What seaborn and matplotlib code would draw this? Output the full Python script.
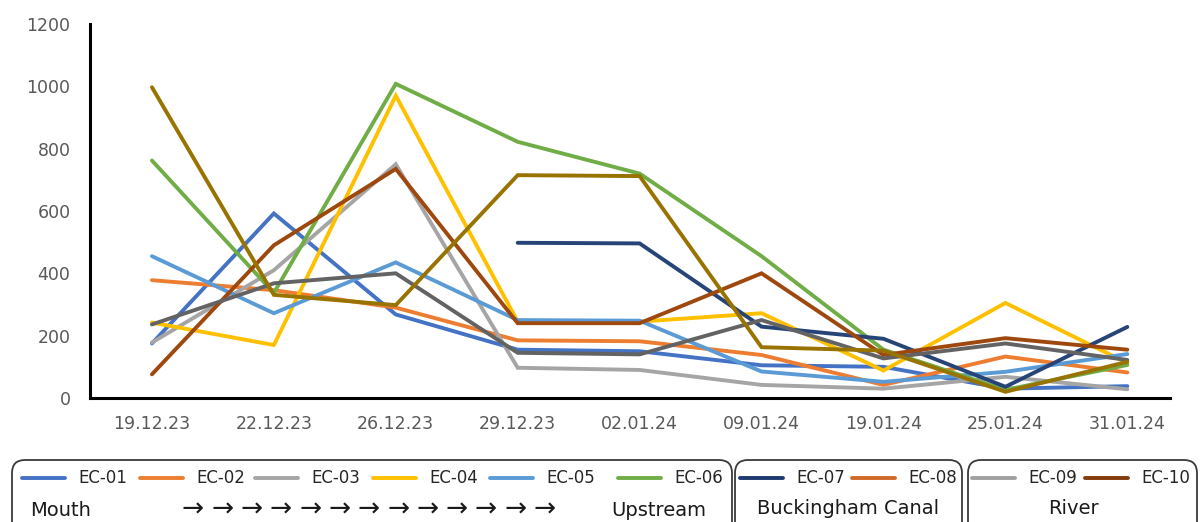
import numpy as np
import pandas as pd
import matplotlib
matplotlib.use("Agg")
import matplotlib.pyplot as plt
import seaborn as sns
from matplotlib.patches import FancyBboxPatch
from matplotlib.lines import Line2D

dates = ["19.12.23", "22.12.23", "26.12.23", "29.12.23", "02.01.24",
         "09.01.24", "19.01.24", "25.01.24", "31.01.24"]

ec01 = [175, 592, 268, 155, 150, 105, 100, 30, 38]
ec02 = [378, 346, 290, 185, 182, 138, 42, 133, 82]
ec03 = [178, 410, 750, 97, 90, 42, 30, 68, 28]
ec04 = [242, 170, 970, 245, 245, 272, 88, 305, 112]
ec05 = [455, 272, 435, 250, 248, 85, 52, 84, 141]
ec06 = [762, 337, 1008, 822, 720, 455, 155, 26, 106]
ec07 = [np.nan, np.nan, np.nan, 498, 496, 229, 190, 36, 228]
ec08 = [76, 490, 735, 240, 240, 400, 138, 192, 155]
ec09 = [236, 368, 400, 145, 140, 250, 127, 175, 122]
ec10 = [997, 331, 298, 715, 712, 163, 152, 20, 116]

series_names = ["EC-01", "EC-02", "EC-03", "EC-04", "EC-05",
                "EC-06", "EC-07", "EC-08", "EC-09", "EC-10"]
series_values = [ec01, ec02, ec03, ec04, ec05, ec06, ec07, ec08, ec09, ec10]
line_colors = ["#4472C4", "#ED7D31", "#A5A5A5", "#FFC000", "#5B9BD5",
               "#70AD47", "#264478", "#9E480E", "#636363", "#997300"]
legend_colors = ["#4472C4", "#ED7D31", "#A5A5A5", "#FFC000", "#5B9BD5",
                 "#70AD47", "#1F3A70", "#D0692A", "#A0A0A0", "#843C0C"]
group_labels = ["Upstream", "Buckingham Canal", "River"]

rows = []
for name, vals in zip(series_names, series_values):
    for i, v in enumerate(vals):
        rows.append({"x": i, "value": v, "station": name})
df = pd.DataFrame(rows).dropna()

sns.set_style("white")
plt.rcParams["font.family"] = ["DejaVu Sans"]

fig = plt.figure(figsize=(12, 5.22), dpi=100)
ax = fig.add_axes([90 / 1200, 1 - 398 / 522, 1080 / 1200, 374 / 522])

sns.lineplot(data=df, x="x", y="value", hue="station", hue_order=series_names,
             palette=dict(zip(series_names, line_colors)), linewidth=2.8,
             sort=False, legend=False, ax=ax, solid_capstyle="round",
             solid_joinstyle="miter")

ax.set_xlim(-0.508, 8.35)
ax.set_ylim(0, 1200)
ax.set_yticks(np.arange(0, 1201, 200))
ax.set_xticks(range(len(dates)))
ax.set_xticklabels(dates)
ax.set_xlabel("")
ax.set_ylabel("")
for s in ["top", "right"]:
    ax.spines[s].set_visible(False)
for s in ["left", "bottom"]:
    ax.spines[s].set_color("black")
    ax.spines[s].set_linewidth(2.2)
ax.tick_params(axis="both", length=0, labelcolor="#595959", labelsize=12.5)
ax.tick_params(axis="y", pad=14)
ax.tick_params(axis="x", pad=12)
ax.grid(False)

tr = fig.dpi_scale_trans
H = 522


def P(px, py):
    return px / 100, (H - py) / 100


# legend boxes
for (x0, x1) in [(12, 732), (735, 962), (968, 1197)]:
    bx, by = P(x0, 535)
    box = FancyBboxPatch((bx, by), (x1 - x0) / 100, (535 - 460) / 100,
                         boxstyle="round,pad=0,rounding_size=0.13",
                         transform=tr, facecolor="none", edgecolor="#3a3a3a",
                         linewidth=1.3, clip_on=False)
    fig.patches.append(box)

handles_x = [22, 140, 255, 373, 490, 618, 740, 852, 972, 1085]
for hx, name, col in zip(handles_x, series_names, legend_colors):
    xa, ya = P(hx, 478)
    xb, _ = P(hx + 43, 478)
    fig.lines.append(Line2D([xa, xb], [ya, ya], color=col, linewidth=2.8,
                            transform=tr))
    tx, ty = P(hx + 56, 478)
    fig.text(tx, ty, name, transform=tr, fontsize=12, color="#262626",
             va="center", ha="left")

# second row
tx, ty = P(30, 511)
fig.text(tx, ty, "Mouth", transform=tr, fontsize=14, color="#1a1a1a",
         va="center", ha="left")
for k in range(13):
    ax_, ay_ = P(193 + k * 29.3, 510)
    fig.text(ax_, ay_, "\u2192", transform=tr, fontsize=19, color="#1a1a1a",
             va="center", ha="center")
tx, ty = P(706, 511)
fig.text(tx, ty, group_labels[0], transform=tr, fontsize=14, color="#1a1a1a",
         va="center", ha="right")
tx, ty = P(848, 509)
fig.text(tx, ty, group_labels[1], transform=tr, fontsize=14, color="#1a1a1a",
         va="center", ha="center")
tx, ty = P(1073, 509)
fig.text(tx, ty, group_labels[2], transform=tr, fontsize=14, color="#1a1a1a",
         va="center", ha="center")

fig.savefig("out.png", dpi=100)
